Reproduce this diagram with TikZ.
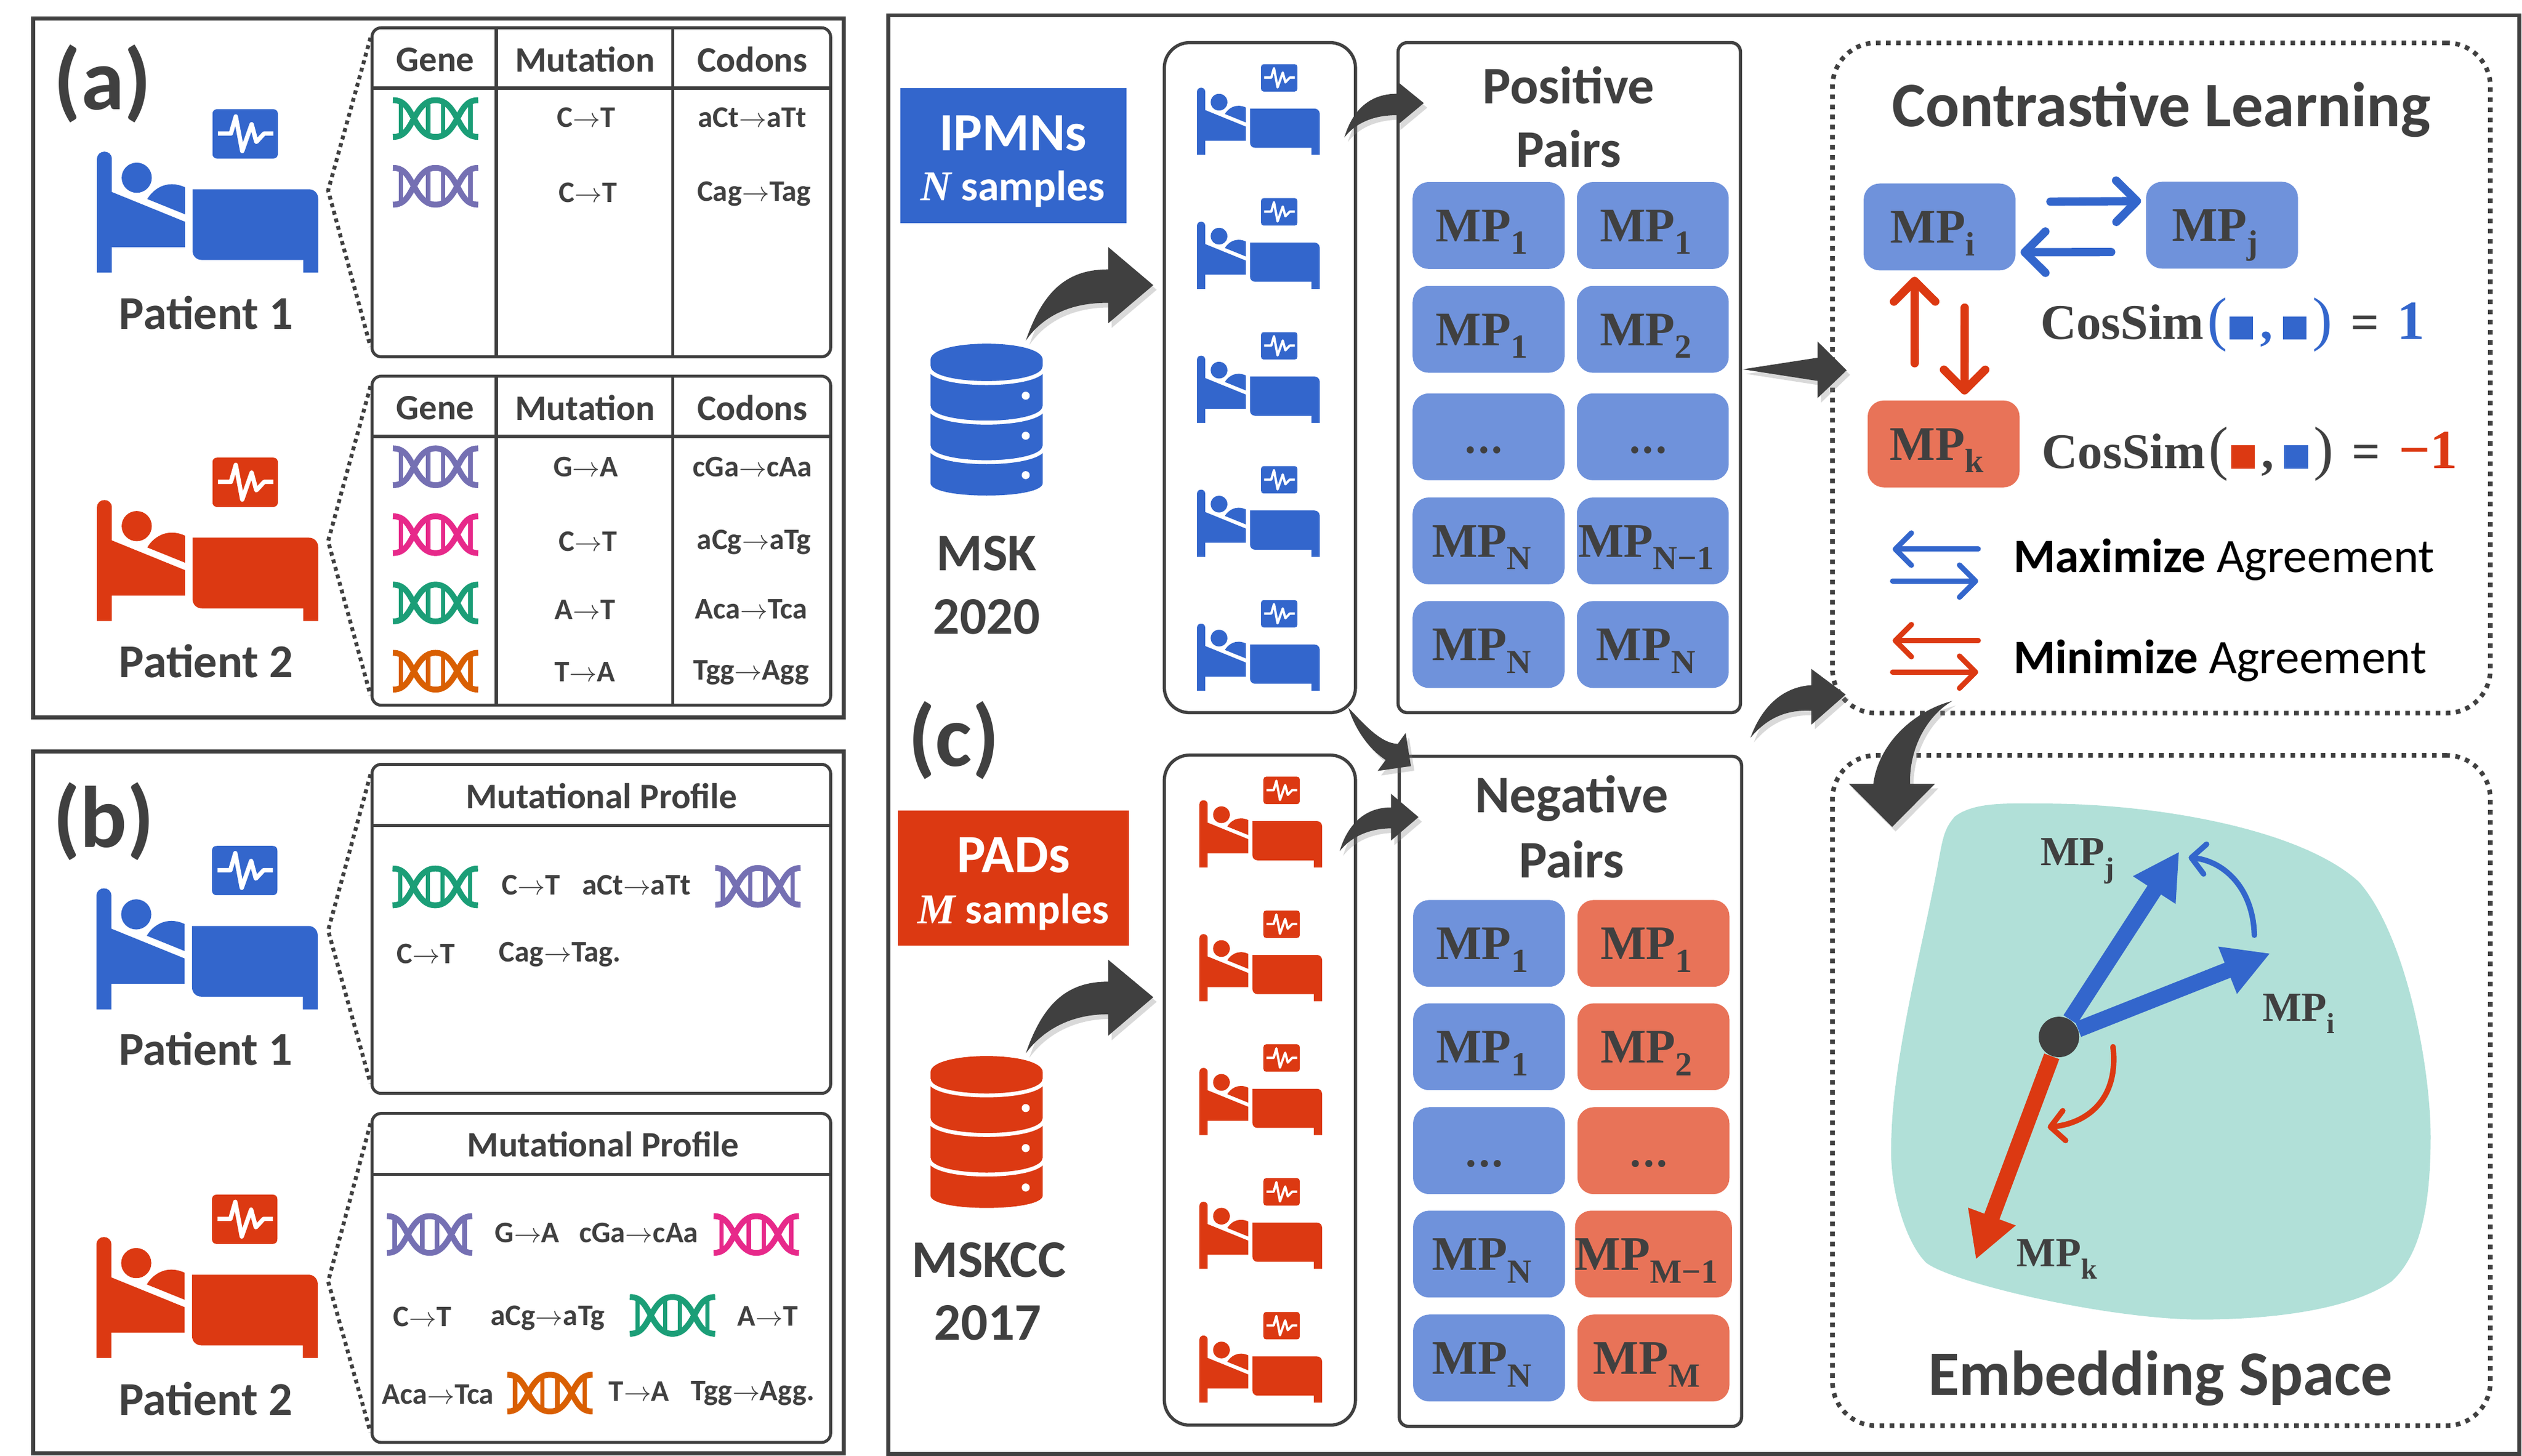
\documentclass[tikz,border=0pt]{standalone}
\usepackage{fontspec}
\setmainfont{Carlito}
\newfontfamily\mpfont{Liberation Serif}
\usetikzlibrary{arrows.meta,shadows}

\definecolor{bluec}{HTML}{3366CC}
\definecolor{redc}{HTML}{DC3912}
\definecolor{lightbluec}{HTML}{6F92DB}
\definecolor{lightredc}{HTML}{E87358}
\definecolor{darkc}{HTML}{404040}
\definecolor{embedc}{HTML}{B1E0D8}
\definecolor{dnagreen}{HTML}{1B9E77}
\definecolor{dnapurple}{HTML}{7570B3}
\definecolor{dnapink}{HTML}{E7298A}
\definecolor{dnaorange}{HTML}{D95F02}

\newcommand{\mto}{\ensuremath{\rightarrow}}
\newcommand{\mplab}[2][21]{{\mpfont\bfseries\fontsize{#1}{#1}\selectfont MP\raisebox{-5.5pt}{\fontsize{\the\dimexpr#1pt*7/10\relax}{14}\selectfont #2}\kern6pt}}
\newcommand{\mpdots}{{\mpfont\bfseries\fontsize{19}{19}\selectfont .\kern1pt.\kern1pt.\kern4pt}}
\newcommand{\cossim}[4]{{\mpfont\bfseries\fontsize{21.7}{21.7}\selectfont CosSim\hspace{1.5pt}\textcolor{#1}{{\fontsize{26}{26}\selectfont\mdseries(}\hspace{1pt}\textcolor{#2}{\rule{10.3pt}{10pt}}\hspace{3pt},\hspace{4.5pt}\textcolor{#3}{\rule{10.3pt}{10pt}}\hspace{2.5pt}{\fontsize{26}{26}\selectfont\mdseries)}}\hspace{8pt}=\hspace{8pt}{\fontsize{24}{24}\selectfont #4}}}

\tikzset{
    panelbox/.style={draw=darkc, line width=1.7pt, inner sep=0pt},
    tablebox/.style={draw=darkc, line width=1.3pt, rounded corners=4pt, inner sep=0pt, minimum width=199.6pt, minimum height=143.2pt},
    tablerule/.style={draw=darkc, line width=1.4pt},
    zoomline/.style={draw=darkc, line width=1.7pt, dash pattern=on 1.7pt off 1.7pt},
    listbox/.style={draw=darkc, line width=1.4pt, rounded corners=11pt, inner sep=0pt, minimum width=83.2pt, minimum height=291.6pt},
    pairbox/.style={draw=darkc, line width=1.4pt, rounded corners=4pt, inner sep=0pt, minimum width=149pt, minimum height=291.6pt},
    dotbox/.style={draw=darkc, line width=2pt, dash pattern=on 2pt off 2.4pt, rounded corners=19pt, inner sep=0pt, minimum width=286.3pt, minimum height=291.7pt},
    sourcebox/.style={inner sep=0pt},
    sourcetxt/.style={inner sep=0pt, text=white, font=\bfseries\fontsize{23.5}{23.5}\selectfont},
    sourcesub/.style={inner sep=0pt, text=white, font=\bfseries\fontsize{18.5}{18.5}\selectfont},
    mpcell/.style={rounded corners=7pt, inner sep=0pt, minimum width=66.1pt, minimum height=37.8pt, text height=14pt, text depth=0pt, text=darkc},
    bluecell/.style={mpcell, fill=lightbluec},
    redcell/.style={mpcell, fill=lightredc},
    smalltxt/.style={inner sep=0pt, text=darkc, font=\bfseries\fontsize{13}{13}\selectfont},
    headtxt/.style={inner sep=0pt, text=darkc, font=\bfseries\fontsize{15.6}{15.6}\selectfont},
    nametxt/.style={inner sep=0pt, text=darkc, font=\bfseries\fontsize{20.5}{20.5}\selectfont},
    bigtxt/.style={inner sep=0pt, text=darkc, font=\bfseries\fontsize{23}{23}\selectfont},
    titletxt/.style={inner sep=0pt, text=darkc, font=\bfseries\fontsize{27.6}{27.6}\selectfont},
    lettertxt/.style={inner sep=0pt, text=darkc, font=\bfseries\fontsize{38}{38}\selectfont},
    agreetxt/.style={inner sep=0pt, anchor=west, text=black, font=\fontsize{20.9}{20.9}\selectfont},
    freelab/.style={inner sep=0pt, text height=12pt, text depth=0pt, text=darkc},
    thinarrow/.style={line width=#1, -{Straight Barb[round,length=9pt,width=18pt]}, line cap=round},
    legendarrow/.style={line width=2.3pt, -{Straight Barb[round,length=7pt,width=14pt]}, line cap=round},
    vecarrow/.style={line width=7pt, -{Triangle[length=20pt,width=20.6pt]}},
    bendarrow/.style={fill=darkc, drop shadow={opacity=.3, shadow xshift=1.5pt, shadow yshift=-2pt}},
    largeicon/.style={scale=.1217},
    smallicon/.style={scale=.0675},
    dnasize/.style={scale=.1217},
    pics/bedicon/.style 2 args={code={
        \fill[#1] (0,835) -- (0,255) .. controls (0,204) and (76,204) .. (76,255) -- (76,423) -- (450,575) -- (450,705) -- (76,705) -- (76,835) -- cycle;
        \fill[#1] (203,350) circle[radius=77];
        \fill[#1] (257,459) .. controls (284,412) and (354,355) .. (450,399) -- (450,537) -- cycle;
        \fill[#1] (488,409) -- (1082,409) .. controls (1110,409) and (1130,430) .. (1130,457) -- (1130,835) -- (1054,835) -- (1054,770) -- (536,770) .. controls (508,770) and (488,750) .. (488,722) -- cycle;
        \fill[#1] (615,0) -- (899,0) .. controls (915,0) and (924,9) .. (924,25) -- (924,227) .. controls (924,243) and (915,252) .. (899,252) -- (615,252) .. controls (599,252) and (590,243) .. (590,227) -- (590,25) .. controls (590,9) and (599,0) .. (615,0) -- cycle;
        \draw[white, line width=#2, line join=round] (618,124) -- (684,124) -- (709,37) -- (742,214) -- (790,77) -- (814,167) -- (854,124) -- (901,124);
    }},
    pics/dnaicon/.style={code={
        \foreach \s in {1,-1} {
            \draw[#1, line width=2.55pt, yscale=\s] (-218,-94) .. controls (-158,-94) and (-138,-49) .. (-110,1) .. controls (-83,51) and (-53,94) .. (0,94) .. controls (53,94) and (83,51) .. (110,1) .. controls (138,-49) and (158,-94) .. (218,-94);
        }
        \foreach \rx in {-178,-38,38,178} {
            \draw[#1, line width=1.9pt] (\rx,-90) -- (\rx,90);
        }
    }},
    pics/dbicon/.style={code={
        \fill[#1] (0,10.1) .. controls (0,-3.4) and (69.8,-3.4) .. (69.8,10.1) -- (69.8,86.6) .. controls (69.8,97) and (0,97) .. (0,86.6) -- cycle;
        \foreach \dy in {0,24.6,49.2} {
            \draw[white, line width=1.7pt] (-1,14.4+\dy) .. controls (-1,27.8+\dy) and (70.8,27.8+\dy) .. (70.8,14.4+\dy);
        }
        \foreach \dy in {32.3,57.2,81.7} {
            \fill[white] (59.2,\dy) circle[radius=2.5];
        }
    }},
}

\begin{document}
\begin{tikzpicture}[x=0.7pt, y=-0.7pt]
    \useasboundingbox (0,0) rectangle (1568,905.2);

    \node[panelbox, minimum width=352.7pt, minimum height=304.2pt] (panelA) at (272.65,228.7) {};
    \node[panelbox, minimum width=352.7pt, minimum height=305.3pt] (panelB) at (272.65,685.4) {};
    \node[panelbox, minimum width=709.8pt, minimum height=626.2pt] (panelC) at (1059.4,456.75) {};

    \node[lettertxt] (letterA) at (63.8,52) {(a)};
    \node[lettertxt] (letterB) at (64.5,510.6) {(b)};
    \node[lettertxt] (letterC) at (593,460.2) {(c)};

    \pic[largeicon] at (60.3,67.9) {bedicon={bluec}{1.9pt}};
    \pic[largeicon] at (60.3,284.5) {bedicon={redc}{1.9pt}};
    \pic[largeicon] at (60,525.9) {bedicon={bluec}{1.9pt}};
    \pic[largeicon] at (60,742.7) {bedicon={redc}{1.9pt}};
    \node[nametxt] (nameAone) at (128.2,194.6) {Patient 1};
    \node[nametxt] (nameAtwo) at (128.2,411.2) {Patient 2};
    \node[nametxt] (nameBone) at (127.9,652.2) {Patient 1};
    \node[nametxt] (nameBtwo) at (127.9,869.5) {Patient 2};

    \foreach \tab/\cy/\ax in {tabAone/119.55/118.4, tabAtwo/336.15/336.5, tabBone/577.5/578.5, tabBtwo/794.5/796.7} {
        \coordinate (\tab apex) at (204,\ax);
        \node[tablebox] (\tab) at (373.85,\cy) {};
        \draw[zoomline] ([yshift=-5pt]\tab.north west) -- (\tab apex) -- ([yshift=5pt]\tab.south west);
    }
    \foreach \tab in {tabAone, tabAtwo} {
        \draw[tablerule] ([yshift=-26.9pt]\tab.north west) -- ([yshift=-26.9pt]\tab.north east);
        \draw[tablerule] ([xshift=54.7pt]\tab.north west) -- ([xshift=54.7pt]\tab.south west);
        \draw[tablerule] ([xshift=131.5pt]\tab.north west) -- ([xshift=131.5pt]\tab.south west);
    }
    \foreach \tab in {tabBone, tabBtwo} {
        \draw[tablerule] ([yshift=-27.2pt]\tab.north west) -- ([yshift=-27.2pt]\tab.north east);
    }

    \foreach \nm/\x/\y/\txt in {geneA/270.6/37/Gene, mutA/363.7/37/Mutation, codA/467.8/37/Codons, geneB/270.6/253.6/Gene, mutB/363.7/253.6/Mutation, codB/467.8/253.6/Codons, profA/374/494.7/Mutational Profile, profB/375/711.6/Mutational Profile} {
        \node[headtxt] (\nm) at (\x,\y) {\txt};
    }
    \foreach \nm/\x/\y/\txt in {
        aone/364.3/73.1/C\mto T, atwo/467.8/73.1/aCt\mto aTt, athree/365.4/119.9/C\mto T, afour/468.8/120.4/Cag\mto Tag,
        bone/364.3/290.2/G\mto A, btwo/467.8/290.2/cGa\mto cAa, bthree/365.4/336.5/C\mto T, bfour/468.8/337/aCg\mto aTg,
        bfive/363.7/378.9/A\mto T, bsix/467/378.9/Aca\mto Tca, bseven/363.7/417.6/T\mto A, beight/467/418.2/Tgg\mto Agg,
        cone/330.2/550.2/C\mto T, ctwo/395.7/550.2/aCt\mto aTt, cthree/264.7/593/C\mto T, cfour/348.2/593.5/Cag\mto Tag.,
        done/327.8/766.6/G\mto A, dtwo/397.1/766.6/cGa\mto cAa, dthree/262.7/818.7/C\mto T, dfour/340.6/819.3/aCg\mto aTg,
        dfive/477.4/818.4/A\mto T, dsix/272.3/867/Aca\mto Tca, dseven/397.4/865.2/T\mto A, deight/468.1/866.1/Tgg\mto Agg.} {
        \node[smalltxt] (\nm) at (\x,\y) {\txt};
    }
    \foreach \x/\y/\col in {
        270.8/73.7/dnagreen, 270.8/115.8/dnapurple,
        270.8/290.2/dnapurple, 270.8/332.4/dnapink, 270.8/374.9/dnagreen, 270.8/417.3/dnaorange,
        270.6/551.4/dnagreen, 471.2/551.1/dnapurple,
        267.1/767.5/dnapurple, 470.2/767.5/dnapink, 418.1/817.8/dnagreen, 341.9/866.1/dnaorange} {
        \pic[dnasize] at (\x,\y) {dnaicon=\col};
    }

    \node[sourcebox, fill=bluec, minimum width=98.4pt, minimum height=58.8pt] (ipmn) at (630,96.9) {};
    \node[sourcebox, fill=redc, minimum width=100.5pt, minimum height=58.9pt] (pads) at (630,545.85) {};
    \node[sourcetxt] (ipmnT) at (629.8,82.8) {IPMNs};
    \node[sourcesub] (ipmnS) at (629.8,117.6) {{\mpfont\itshape N} samples};
    \node[sourcetxt] (padsT) at (630.1,531.6) {PADs};
    \node[sourcesub] (padsS) at (630.1,567) {{\mpfont\itshape M} samples};
    \pic at (578.5,213.7) {dbicon=bluec};
    \pic at (578.5,656.6) {dbicon=redc};
    \node[bigtxt] (mskA) at (613.4,344.2) {MSK};
    \node[bigtxt] (mskB) at (613.4,383.5) {2020};
    \node[bigtxt] (mskccA) at (614.9,783.3) {MSKCC};
    \node[bigtxt] (mskccB) at (614.2,822.6) {2017};

    \node[listbox] (listblue) at (783.3,234.8) {};
    \node[listbox] (listred) at (783.3,677.75) {};
    \foreach \y in {39.9,123.2,206.5,289.8,373.1} {
        \pic[smallicon] at (744.2,\y) {bedicon={bluec}{1pt}};
    }
    \foreach \y in {482.9,566.1,649.3,732.5,815.7} {
        \pic[smallicon] at (745.7,\y) {bedicon={redc}{1pt}};
    }

    \node[pairbox] (posbox) at (975.65,234.8) {};
    \node[pairbox] (negbox) at (976.35,678.5) {};
    \node[bigtxt] (posA) at (975.3,53.2) {Positive};
    \node[bigtxt] (posB) at (975.3,92.4) {Pairs};
    \node[bigtxt] (negA) at (977.1,496.3) {Negative};
    \node[bigtxt] (negB) at (977.1,534.2) {Pairs};

    \foreach \nm/\y/\lt/\rt in {one/140.2/\mplab{1}/\mplab{1}, two/204.75/\mplab{1}/\mplab{2}, three/271.6/\mpdots/\mpdots, four/336.3/\mplab{N}/\mplab{N−1}, five/400.7/\mplab{N}/\mplab{N}} {
        \node[bluecell] (pos\nm L) at (925.5,\y) {\lt};
        \node[bluecell] (pos\nm R) at (1027.6,\y) {\rt};
    }
    \foreach \nm/\y/\lt/\rt in {one/586.55/\mplab{1}/\mplab{1}, two/650.8/\mplab{1}/\mplab{2}, three/715.4/\mpdots/\mpdots, four/779.7/\mplab{N}/\mplab{M−1}, five/844.3/\mplab{N}/\mplab{M}} {
        \node[bluecell] (neg\nm L) at (925.8,\y) {\lt};
        \node[redcell] (neg\nm R) at (1028,\y) {\rt};
    }

    \node[dotbox] (contrast) at (1343.8,235) {};
    \node[dotbox] (embed) at (1343.8,678) {};
    \node[titletxt] (contrastT) at (1343.8,68) {Contrastive Learning};
    \node[titletxt] (embedT) at (1343.2,857) {Embedding Space};

    \node[bluecell] (mpi) at (1205.9,141.1) {\mplab{i}};
    \node[bluecell] (mpj) at (1381.5,140) {\mplab{j}};
    \node[redcell] (mpk) at (1208.4,276) {\mplab{k}};
    \draw[thinarrow=3.6pt, bluec] ([xshift=15pt,yshift=11pt]mpi.east) -- ([xshift=-2pt,yshift=10.5pt]mpj.west);
    \draw[thinarrow=3.6pt, bluec] ([xshift=-15pt,yshift=-11.7pt]mpj.west) -- ([xshift=2pt,yshift=-11pt]mpi.east);
    \draw[thinarrow=3.6pt, redc] ([xshift=-12.6pt,yshift=16pt]mpk.north) -- ([xshift=-10.9pt,yshift=-2.6pt]mpi.south);
    \draw[thinarrow=3.6pt, redc] ([xshift=10.9pt,yshift=-16pt]mpi.south) -- ([xshift=9.1pt,yshift=2.4pt]mpk.north);

    \node[inner sep=0pt, anchor=west, text=darkc] (cosA) at (1268.3,202) {\cossim{bluec}{bluec}{bluec}{\textcolor{bluec}{1}}};
    \node[inner sep=0pt, anchor=west, text=darkc] (cosB) at (1269.2,282.3) {\cossim{darkc}{redc}{bluec}{\textcolor{redc}{−1}}};

    \foreach \nm/\col/\ya/\yb in {legmax/bluec/341.4/361.3, legmin/redc/398.3/417.9} {
        \coordinate (\nm AR) at (1229.9,\ya);
        \coordinate (\nm AL) at (1176.7,\ya);
        \coordinate (\nm BL) at (1176.7,\yb);
        \coordinate (\nm BR) at (1229.9,\yb);
        \draw[legendarrow, \col] (\nm AR) -- (\nm AL);
        \draw[legendarrow, \col] (\nm BL) -- (\nm BR);
    }
    \node[agreetxt] (maxT) at (1251.6,348) {\textbf{Maximize} Agreement};
    \node[agreetxt] (minT) at (1251.6,410.6) {\textbf{Minimize} Agreement};

    \fill[embedc] (1273.7,499.6) .. controls (1340,500) and (1430,515) .. (1466.5,548.2) .. controls (1495,580) and (1511,660) .. (1511.2,707.1) .. controls (1511,750) and (1505,780) .. (1486.9,796.7) .. controls (1460,815) and (1410,820.4) .. (1367.1,820.4) .. controls (1310,820) and (1215,798) .. (1197.7,785.2) .. controls (1185,773) and (1175,740) .. (1175.8,712.9) .. controls (1176,660) and (1195,590) .. (1205,536.6) .. controls (1208,520) and (1209,515) .. (1215.3,507.7) .. controls (1228,498) and (1250,499.6) .. cycle;
    \node[circle, fill=darkc, inner sep=0pt, minimum size=17.6pt] (origin) at (1280.1,644.7) {};
    \coordinate (tipj) at (1354.9,529.4);
    \coordinate (tipi) at (1411.5,592.7);
    \coordinate (tipk) at (1228.4,783.1);
    \draw[vecarrow, bluec] (origin) -- (tipj);
    \draw[vecarrow, bluec] (origin) -- (tipi);
    \draw[vecarrow, redc] (origin) -- (tipk);
    \coordinate (swingiA) at (1401.6,581.4);
    \coordinate (swingiB) at (1360.7,533.1);
    \coordinate (swingkA) at (1313.7,650.8);
    \coordinate (swingkB) at (1273.1,700.8);
    \draw[thinarrow=2.4pt, bluec, -{Straight Barb[round,length=6pt,width=13pt]}] (swingiA) .. controls (1400.7,551.1) and (1381.8,535.2) .. (swingiB);
    \draw[thinarrow=2.4pt, redc, -{Straight Barb[round,length=6pt,width=13pt]}] (swingkA) .. controls (1317.5,684) and (1297,698.5) .. (swingkB);
    \node[freelab] (labj) at (1296,529.4) {\mplab[18]{j}};
    \node[freelab] (labi) at (1433.4,626.2) {\mplab[18]{i}};
    \node[freelab] (labk) at (1283.2,778.8) {\mplab[18]{k}};

    \path[bendarrow] (637.8,211.7) .. controls (649,179) and (665,167.5) .. (689,167.5) -- (689,153.6) -- (717,177.3) -- (689,201) -- (689,188.3) .. controls (665,188) and (648,197) .. cycle;
    \path[bendarrow] (637.8,654.8) .. controls (649,622) and (665,610.3) .. (689,610.3) -- (689,596.7) -- (717,620) -- (689,643.9) -- (689,630.6) .. controls (665,630.5) and (648,641) .. cycle;
    \path[bendarrow] (835.8,85.5) .. controls (841,68) and (852,58.3) .. (868.5,58.3) -- (868.5,50.5) -- (885.2,64.1) -- (868.5,78) -- (868.5,71.6) .. controls (855,71.5) and (843,76) .. cycle;
    \path[bendarrow] (832.9,529.2) .. controls (838,512) and (849,502) .. (864.8,502) -- (864.8,493.5) -- (881.9,508) -- (864.8,522.6) -- (864.8,515) .. controls (852,515) and (840,520) .. cycle;
    \path[bendarrow] (838.3,440) .. controls (848,450) and (858,462) .. (869,462.5) -- (873.9,455.7) -- (877.2,476.3) -- (856.5,479.3) -- (861.5,472.5) .. controls (850,465) and (842,452) .. cycle;
    \path[bendarrow] (1083.5,229.6) -- (1130,222.4) -- (1130,212.3) -- (1148.1,230.2) -- (1130,247.5) -- (1130,236.8) -- cycle;
    \path[bendarrow] (1088.3,458.7) .. controls (1095,440) and (1108,427) .. (1126.2,426) -- (1126.2,415.9) -- (1147.5,431.8) -- (1126.2,450.5) -- (1126.2,441.9) .. controls (1110,441) and (1098,447) .. cycle;
    \path[bendarrow] (1213.8,435.8) .. controls (1198,445) and (1187,465) .. (1187.5,487.3) -- (1203,487.3) -- (1176.4,514.1) -- (1149.5,487.3) -- (1164.7,487.3) .. controls (1168,462) and (1190,442) .. cycle;
\end{tikzpicture}
\end{document}
